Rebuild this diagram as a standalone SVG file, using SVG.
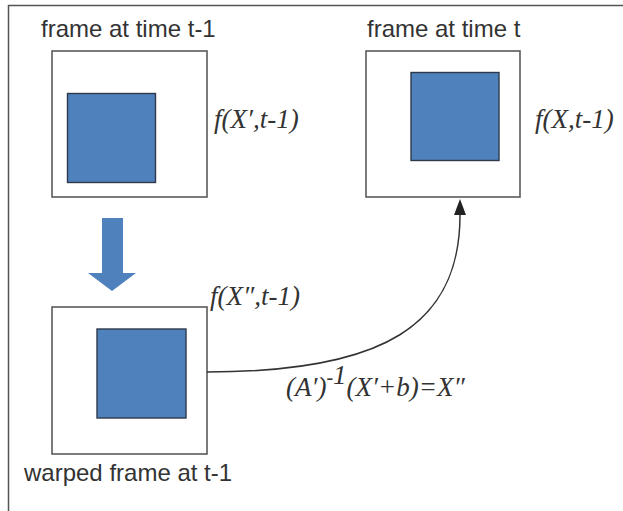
<svg xmlns="http://www.w3.org/2000/svg" width="623" height="511" viewBox="0 0 623 511">
<style>
.frame{fill:#fff;stroke:#5a5a5a;stroke-width:1.6}
.obj{fill:#4f81bd;stroke:#2e3a4a;stroke-width:1.4}
.lbl{font-family:"Liberation Sans",Arial,sans-serif;font-size:24px;fill:#333}
.math{font-family:'Liberation Serif','DejaVu Serif',serif;font-style:italic;font-size:27px;fill:#333}
.conn{fill:none;stroke:#333;stroke-width:1.5}
</style>
<defs>
<marker id="ah" markerUnits="userSpaceOnUse" markerWidth="18" markerHeight="14" refX="0" refY="6" orient="auto">
<path d="M0,0 L16,6 L0,12 z" fill="#222"/>
</marker>
</defs>
<rect x="0" y="0" width="623" height="511" fill="#fff"/>
<path d="M8.5,511 V5.5 H623" fill="none" stroke="#555" stroke-width="1.5"/>
<g id="frame-t-1">
<text class="lbl" x="41" y="37">frame at time t-1</text>
<rect class="frame" x="52" y="51" width="155" height="146"/>
<rect class="obj" x="67.5" y="93.5" width="88" height="89"/>
<text class="math" font-family="Liberation Serif, serif" x="214" y="128">f(X′,t-1)</text>
</g>
<g id="frame-t">
<text class="lbl" x="367" y="37">frame at time t</text>
<rect class="frame" x="366" y="51" width="154" height="146"/>
<rect class="obj" x="411" y="72.5" width="88" height="88"/>
<text class="math" font-family="Liberation Serif, serif" x="535" y="128">f(X,t-1)</text>
</g>
<g id="warped-frame">
<rect class="frame" x="52" y="307" width="155" height="147"/>
<rect class="obj" x="97" y="329" width="89" height="89"/>
<text class="math" font-family="Liberation Serif, serif" x="210" y="305">f(X″,t-1)</text>
<text class="lbl" x="24" y="481">warped frame at t-1</text>
</g>
<g id="connectors">
<path d="M102,218 H123 V273 H136 L112,291 L88,273 H102 Z" fill="#4f81bd"/>
<path class="conn" d="M207,372 C384,372 460,325 460,215" marker-end="url(#ah)"/>
<text class="math" font-family="Liberation Serif, serif" x="286" y="396">(A′)<tspan font-size="20" font-style="normal" dy="-12">-</tspan><tspan dy="0">1</tspan><tspan dy="12">(X′+b)=X″</tspan></text>
</g>
</svg>
